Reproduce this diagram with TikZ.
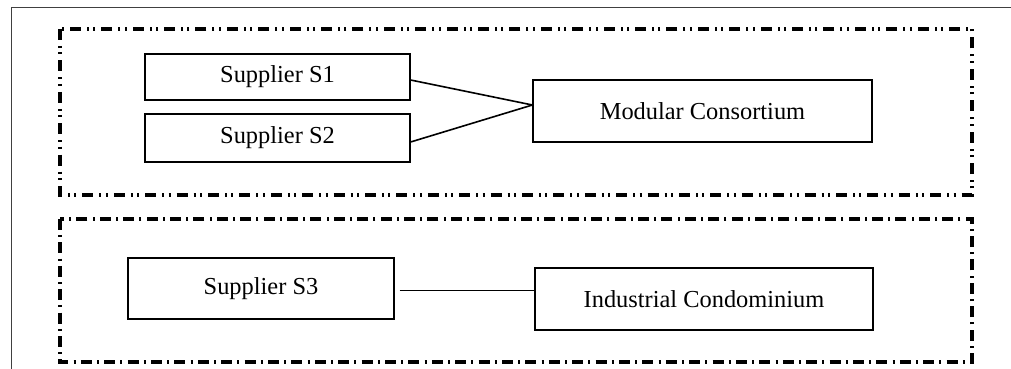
\documentclass[tikz,border=0pt]{standalone}
\usepackage{fontspec}
\setmainfont{Liberation Serif}
\usepackage{tikz}
\usetikzlibrary{positioning,calc}
\definecolor{frameCol}{HTML}{404040}
\tikzset{
  actor/.style={draw, line width=0.6pt, font=\fontsize{12.2}{14}\selectfont,
                inner sep=0pt, align=center},
  link/.style={line width=0.8pt},
  frame/.style={draw=frameCol, line width=0.5pt},
  grpdd/.style={line width=1.6pt, dash pattern=on 5.5pt off 3pt on 1pt off 2.2pt on 1pt off 3pt}, % dash dot dot
  grpd/.style={line width=1.6pt, dash pattern=on 5.5pt off 2.6pt on 1pt off 2.6pt},             % dash dot
}
\begin{document}
\begin{tikzpicture}[x=0.5pt,y=-0.5pt]
  \useasboundingbox (0,0) rectangle (1011,369);
  \draw[frame] (11,369) -- (11,8) -- (1011,8);

  % upper group
  \draw[grpdd] (60,29) rectangle (972,195);
  \node[actor, minimum width=132.5pt, minimum height=23pt] (s1) at (277.5,77) {Supplier S1};
  \node[actor, minimum width=132.5pt, minimum height=24pt] (s2) at (277.5,138) {Supplier S2};
  \node[actor, minimum width=169.5pt, minimum height=31pt] (mc) at (702.5,111) {Modular Consortium};
  \draw[link] ([yshift=-1.5pt]s1.east) -- ([yshift=3pt]mc.west);
  \draw[link] ([yshift=-2pt]s2.east) -- ([yshift=3pt]mc.west);

  % lower group
  \draw[grpd] (60,219) rectangle (972,362);
  \node[actor, minimum width=133pt, minimum height=30.5pt] (s3) at (261,288.5) {Supplier S3};
  \node[actor, minimum width=169pt, minimum height=31pt] (ic) at (704,299) {Industrial Condominium};
  \draw[line width=0.5pt] ([xshift=2.5pt,yshift=-0.75pt]s3.east) -- ([yshift=-0.75pt]s3.east -| ic.west);
\end{tikzpicture}
\end{document}
